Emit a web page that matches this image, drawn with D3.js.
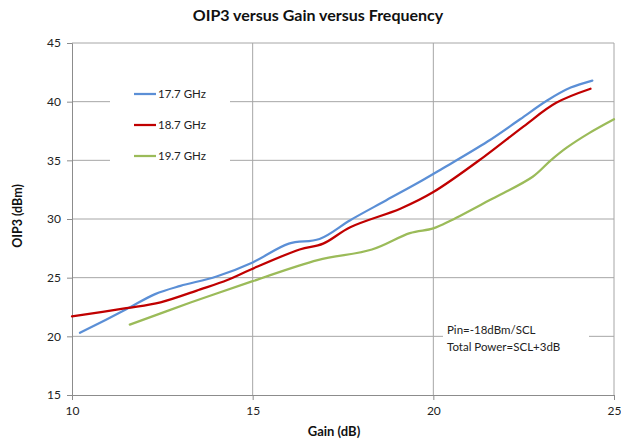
<!DOCTYPE html>
<html lang="en">
<head>
<meta charset="utf-8">
<title>OIP3 versus Gain versus Frequency</title>
<script src="https://d3js.org/d3.v7.min.js"></script>
<style>
  body { margin: 0; background: #fff; }
  text { font-family: Lato, "Open Sans", sans-serif; }
</style>
</head>
<body>
<script>
// series data: [gain dB, OIP3 dBm]
var seriesNames = ["17.7 GHz", "18.7 GHz", "19.7 GHz"];
var seriesColors = ["#5b8fd6", "#c00000", "#9bbb59"];
var f177 = [[10.22,20.3],[11.5,22.3],[12.3,23.6],[13,24.3],[14,25.1],[15,26.3],[16,27.9],[16.85,28.3],[17.7,29.9],[18.7,31.6],[19.7,33.3],[20.2,34.2],[21.5,36.6],[22.4,38.5],[23.15,40.1],[23.8,41.2],[24.4,41.8]];
var f187 = [[10,21.7],[11.5,22.4],[12.45,22.9],[13.55,24],[14.3,24.8],[14.95,25.7],[16.3,27.4],[16.95,27.9],[17.7,29.3],[19.1,30.9],[20,32.3],[21.4,35.3],[22.5,37.9],[23.4,39.9],[24.35,41.1]];
var f197 = [[11.6,21],[13.3,22.9],[15,24.7],[16.8,26.5],[18.3,27.4],[19.35,28.8],[20,29.2],[20.5,29.9],[21.55,31.6],[22.75,33.6],[23.25,35],[23.7,36.1],[24.3,37.3],[25,38.5]];
var allSeries = [f177, f187, f197];
var xTicks = [10, 15, 20, 25];
var yTicks = [15, 20, 25, 30, 35, 40, 45];
var notes = ["Pin=-18dBm/SCL", "Total Power=SCL+3dB"];

var w = 621, h = 444;
var plotL = 72, plotR = 614, plotT = 43, plotB = 395;

var xScale = d3.scaleLinear().domain([10, 25]).range([plotL, plotR]);
var yScale = d3.scaleLinear().domain([15, 45]).range([plotB, plotT]);

var svg = d3.select("body").append("svg").attr("width", w).attr("height", h);

// gridlines
svg.append("g").selectAll("line").data(yTicks.slice(1)).enter().append("line")
  .attr("x1", plotL).attr("x2", plotR)
  .attr("y1", d => yScale(d)).attr("y2", d => yScale(d))
  .attr("stroke", "#a6a6a6").attr("stroke-width", 1);
svg.append("g").selectAll("line").data(xTicks.slice(1)).enter().append("line")
  .attr("y1", plotT).attr("y2", plotB)
  .attr("x1", d => xScale(d)).attr("x2", d => xScale(d))
  .attr("stroke", "#a6a6a6").attr("stroke-width", 1);

// axes
var xAxis = d3.axisBottom(xScale).tickValues(xTicks).tickSize(5).tickPadding(6);
var yAxis = d3.axisLeft(yScale).tickValues(yTicks).tickSize(5).tickPadding(6);
var gx = svg.append("g").attr("transform", `translate(0,${plotB})`).call(xAxis);
var gy = svg.append("g").attr("transform", `translate(${plotL},0)`).call(yAxis);
[gx, gy].forEach(function(g) {
  g.selectAll("path,line").attr("stroke", "#8c8c8c");
  g.selectAll("text").attr("fill", "#222").style("font-size", "12px");
});

// annotation box
svg.append("rect").attr("x", 443).attr("y", 318).attr("width", 146).attr("height", 38).attr("fill", "#fff");
svg.append("g").selectAll("text").data(notes).enter().append("text")
  .attr("x", 447).attr("y", (d, i) => 334 + i * 17)
  .style("font-size", "11.5px").attr("fill", "#222").text(d => d);

// lines
var line = d3.line().x(d => xScale(d[0])).y(d => yScale(d[1])).curve(d3.curveCatmullRom.alpha(0.5));
svg.append("g").selectAll("path").data(allSeries).enter().append("path")
  .attr("d", line).attr("fill", "none")
  .attr("stroke", (d, i) => seriesColors[i]).attr("stroke-width", 2.25)
  .attr("stroke-linecap", "round");

// legend
svg.append("rect").attr("x", 110).attr("y", 80).attr("width", 120).attr("height", 92).attr("fill", "#fff");
var leg = svg.append("g").selectAll("g").data(seriesNames).enter().append("g")
  .attr("transform", (d, i) => `translate(134,${94 + i * 31})`);
leg.append("line").attr("x1", 0).attr("x2", 22)
  .attr("stroke", (d, i) => seriesColors[i]).attr("stroke-width", 2.25);
leg.append("text").attr("x", 24).attr("y", 4).style("font-size", "11.5px").attr("fill", "#222").text(d => d);

// titles
svg.append("text").attr("x", 318).attr("y", 21).attr("text-anchor", "middle")
  .style("font-size", "16px").style("font-weight", "bold").attr("fill", "#111")
  .text("OIP3 versus Gain versus Frequency");
svg.append("text").attr("x", 334).attr("y", 436).attr("text-anchor", "middle")
  .style("font-size", "13px").style("font-weight", "bold").attr("fill", "#111").text("Gain (dB)");
svg.append("text").attr("transform", "translate(22,216) rotate(-90)").attr("text-anchor", "middle")
  .style("font-size", "12.5px").style("font-weight", "bold").attr("fill", "#111").text("OIP3 (dBm)");
</script>
</body>
</html>
